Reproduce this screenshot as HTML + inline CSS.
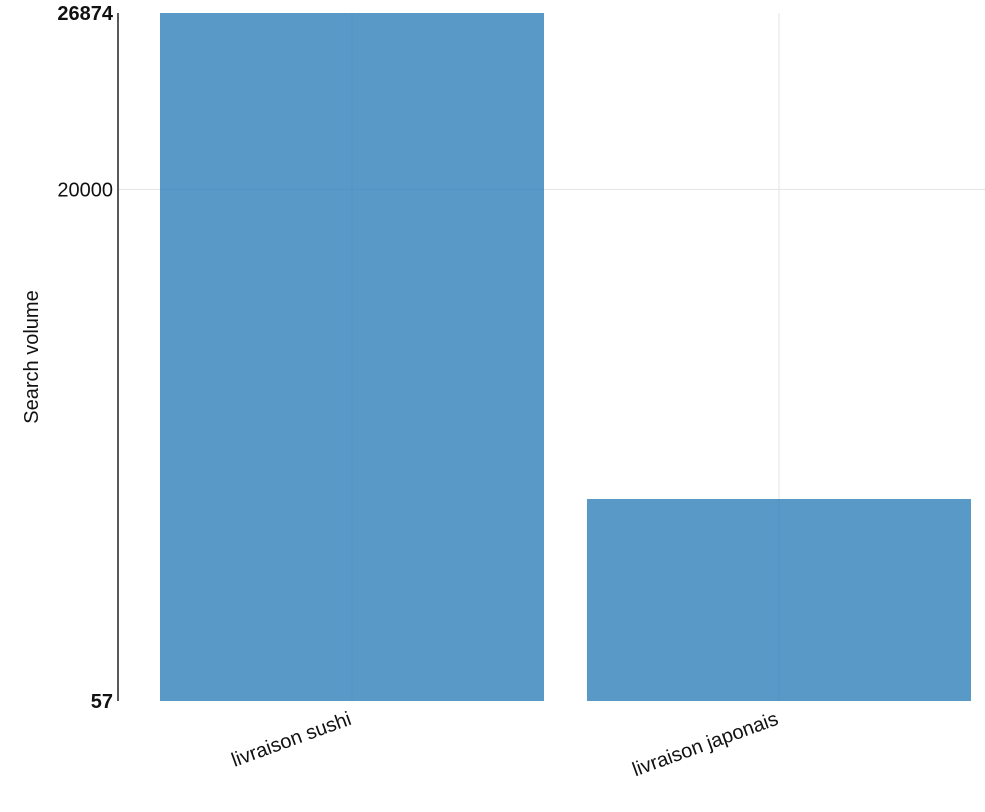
<!DOCTYPE html>
<html><head><meta charset="utf-8"><style>
body{margin:0;background:#fff;}
svg{display:block;font-family:"Liberation Sans",sans-serif;}
</style></head><body>
<svg id="chart" width="985" height="812"></svg>
<script>
const categories = ["livraison sushi", "livraison japonais"];
const values = [26874, 7931];
const tickValues = [57, 20000, 26874];
const tickLabels = ["57", "20000", "26874"];
const tickBold = [true, false, true];

const NS = "http://www.w3.org/2000/svg";
const svg = document.getElementById("chart");
const yMin = 57, yMax = 26874, yTop = 13, yBot = 701, xL = 118, xR = 985;
const y = v => yBot - (v - yMin) / (yMax - yMin) * (yBot - yTop);
const band = (xR - xL) / categories.length * 0.985;
const x = i => 139 + i * 427;
function mk(tag, attrs, parent) {
  const e = document.createElementNS(NS, tag);
  for (const k in attrs) e.setAttribute(k, attrs[k]);
  (parent || svg).appendChild(e);
  return e;
}
// grid
tickValues.forEach((t, i) => {
  if (t === 20000) {
    const g = mk("line", {x1: xL, x2: xR, y1: y(t), y2: y(t), stroke: "#e3e3e3", "stroke-width": 1});
    
    
  }
});
categories.forEach((c, i) => {
  const cx = x(i) + 427 / 2 - 0.5;
  const g = mk("line", {x1: cx, x2: cx, y1: yTop, y2: yBot, stroke: "#e3e3e3", "stroke-width": 1});
  
  
});
// bars
categories.forEach((c, i) => {
  const b = mk("rect", {x: x(i) + 21, y: y(values[i]), width: 384, height: yBot - y(values[i]), fill: "#3383bc", "fill-opacity": 0.82});
  
  
  const cx = x(i) + 427 / 2;
  const t = mk("text", {x: cx, y: 724, "font-size": 20, fill: "#111", "text-anchor": "end", transform: `rotate(-20 ${cx} 724)`});
  t.textContent = c;
  
  
});
// axis
const ax = mk("line", {x1: xL, x2: xL, y1: yTop, y2: yBot, stroke: "#222", "stroke-width": 1.5});


tickValues.forEach((t, i) => {
  const tx = mk("text", {x: 113, y: y(t) + 7, "font-size": 20, "text-anchor": "end", fill: "#111", "font-weight": tickBold[i] ? "bold" : "normal"});
  tx.textContent = tickLabels[i];
  
  
});
const yt = mk("text", {x: 38, y: 357, "font-size": 20, fill: "#111", "text-anchor": "middle", transform: "rotate(-90 38 357)"});
yt.textContent = "Search volume";


</script>
</body></html>
